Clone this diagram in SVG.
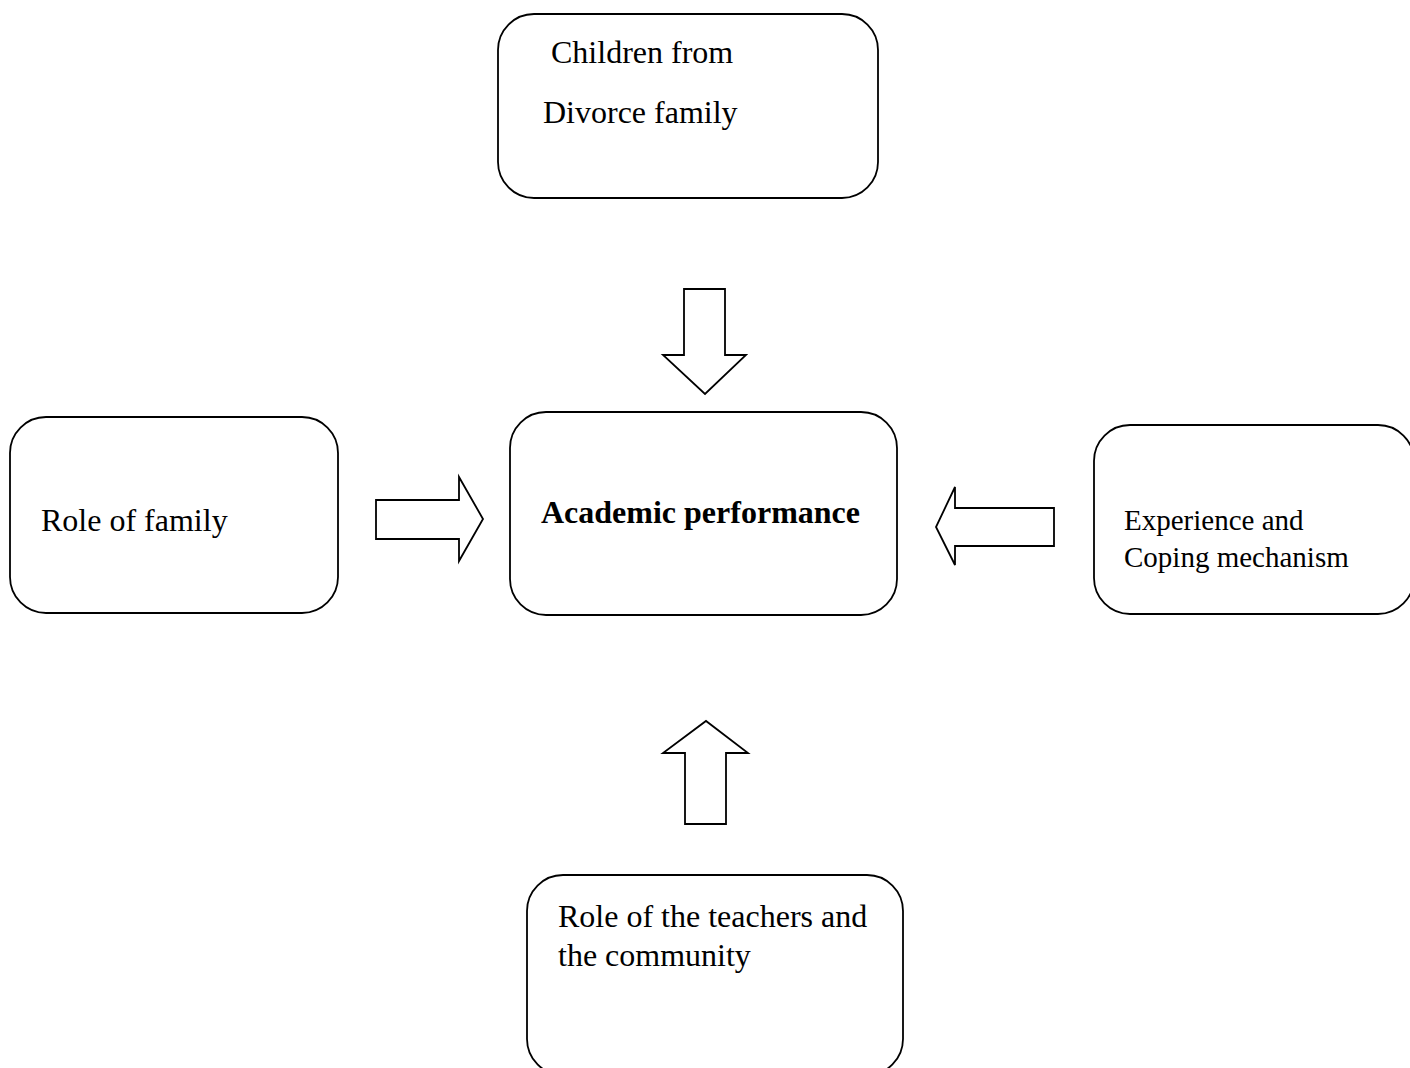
<svg xmlns="http://www.w3.org/2000/svg" width="1410" height="1068" viewBox="0 0 1410 1068">
<style>
.box{fill:#fff;stroke:#000;stroke-width:1.8}
.arr{fill:#fff;stroke:#000;stroke-width:1.8;stroke-linejoin:miter}
text{font-family:"Liberation Serif","Times New Roman",serif;font-size:32px;fill:#000}
.b{font-weight:bold}
.s{font-size:29px}
</style>
<rect width="1410" height="1068" fill="#fff"/>
<g id="node-children">
<rect class="box" x="498" y="14" width="380" height="184" rx="36" ry="36"/>
<text x="551" y="63">Children from</text>
<text x="543" y="123">Divorce family</text>
</g>
<g id="node-family">
<rect class="box" x="10" y="417" width="328" height="196" rx="36" ry="36"/>
<text x="41" y="531">Role of family</text>
</g>
<g id="node-academic">
<rect class="box" x="510" y="412" width="387" height="203" rx="36" ry="36"/>
<text class="b" x="541" y="523">Academic performance</text>
</g>
<g id="node-experience">
<rect class="box" x="1094" y="425" width="320" height="189" rx="36" ry="36"/>
<text class="s" x="1124" y="530">Experience and</text>
<text class="s" x="1124" y="567">Coping mechanism</text>
</g>
<g id="node-teachers">
<rect class="box" x="527" y="875" width="376" height="200" rx="36" ry="36"/>
<text x="558" y="927">Role of the teachers and</text>
<text x="558" y="966">the community</text>
</g>
<g id="connectors">
<polygon class="arr" points="684,289 725,289 725,355 746,355 705,394 663,355 684,355"/>
<polygon class="arr" points="376,500 459,500 459,477 483,519 459,561 459,539 376,539"/>
<polygon class="arr" points="1054,508 955,508 955,487 936,527 955,565 955,546 1054,546"/>
<polygon class="arr" points="685,824 726,824 726,753 748,753 706,721 663,753 685,753"/>
</g>
</svg>
